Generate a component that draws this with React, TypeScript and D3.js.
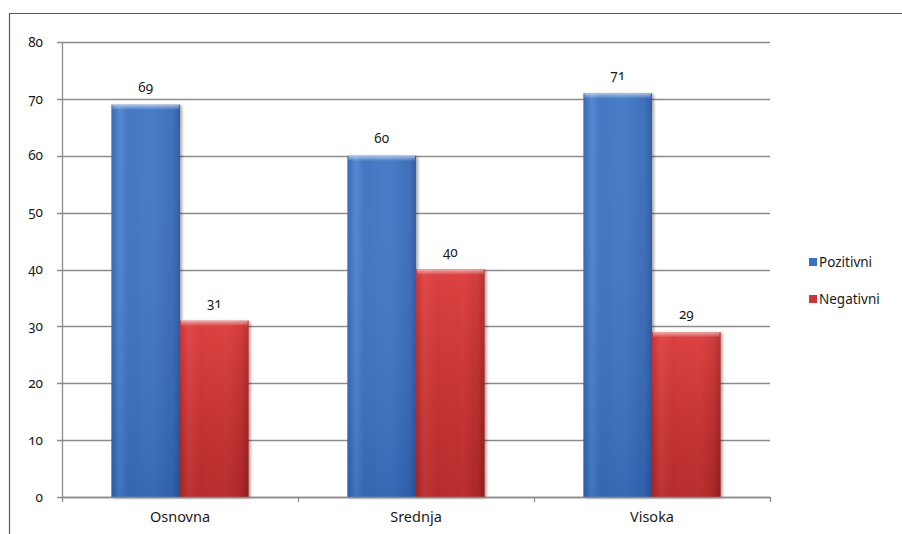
import React from "react";
import * as d3 from "d3";

const categories = ["Osnovna", "Srednja", "Visoka"];
const seriesNames = ["Pozitivni", "Negativni"];
const pozitivni = [69, 60, 71];
const negativni = [31, 40, 29];
const yTicks = [0, 10, 20, 30, 40, 50, 60, 70, 80];

const W = 902;
const H = 534;
const margin = { left: 62, right: 132, top: 42, bottom: 37 };
const FONT = "'Noto Sans', 'Open Sans', sans-serif";

export default function App() {
  const x0 = d3
    .scaleBand<string>()
    .domain(categories)
    .range([margin.left, W - margin.right])
    .paddingInner(0)
    .paddingOuter(0);
  const x1 = d3
    .scaleBand<string>()
    .domain(seriesNames)
    .range([0, x0.bandwidth()])
    .paddingInner(0)
    .paddingOuter(0.72);
  const y = d3.scaleLinear().domain([0, 80]).range([H - margin.bottom, margin.top]);

  const values = [pozitivni, negativni];
  const fills = ["url(#blueH)", "url(#redH)"];
  const shades = ["url(#blueV)", "url(#redV)"];
  const legendColors = ["#3b72c2", "#cf3536"];

  const x0Edges = [...categories.map((c) => x0(c)!), x0.range()[1]];

  return (
    <svg
      width={W}
      height={H}
      style={{ position: "absolute", left: 0, top: 0, fontFamily: FONT, fontVariantNumeric: "oldstyle-nums" }}
    >
      <defs>
        <linearGradient id="blueH" x1="0" x2="1" y1="0" y2="0">
          <stop offset="0" stopColor="#2f62b0" />
          <stop offset="0.12" stopColor="#4a82cf" />
          <stop offset="0.25" stopColor="#3a70c0" />
          <stop offset="0.6" stopColor="#3e76c6" />
          <stop offset="0.9" stopColor="#3568b6" />
          <stop offset="1" stopColor="#2a569e" />
        </linearGradient>
        <linearGradient id="redH" x1="0" x2="1" y1="0" y2="0">
          <stop offset="0" stopColor="#b52a2b" />
          <stop offset="0.12" stopColor="#d94242" />
          <stop offset="0.3" stopColor="#cf3637" />
          <stop offset="0.7" stopColor="#d23a3a" />
          <stop offset="0.9" stopColor="#c03030" />
          <stop offset="1" stopColor="#9e2526" />
        </linearGradient>
        <linearGradient id="blueV" x1="0" x2="0" y1="0" y2="1">
          <stop offset="0" stopColor="#ffffff" stopOpacity="0.05" />
          <stop offset="1" stopColor="#0a2a60" stopOpacity="0.15" />
        </linearGradient>
        <linearGradient id="redV" x1="0" x2="0" y1="0" y2="1">
          <stop offset="0" stopColor="#ff6060" stopOpacity="0.25" />
          <stop offset="1" stopColor="#500000" stopOpacity="0.2" />
        </linearGradient>
        <linearGradient id="gloss" x1="0" x2="0" y1="0" y2="1">
          <stop offset="0" stopColor="#ffffff" stopOpacity="0.55" />
          <stop offset="1" stopColor="#ffffff" stopOpacity="0.05" />
        </linearGradient>
        <filter id="shadow" x="-10%" y="-10%" width="130%" height="120%">
          <feGaussianBlur in="SourceAlpha" stdDeviation="1.5" />
          <feOffset dx="2" dy="1" result="b" />
          <feComponentTransfer>
            <feFuncA type="linear" slope="0.35" />
          </feComponentTransfer>
          <feMerge>
            <feMergeNode />
            <feMergeNode in="SourceGraphic" />
          </feMerge>
        </filter>
      </defs>

      <rect x={0} y={0} width={W} height={H} fill="#ffffff" />
      {/* outer frame */}
      <path d={`M9.5,${H} V13.5 H${W}`} fill="none" stroke="#5a5a5a" strokeWidth={1.2} />

      {/* horizontal gridlines and y ticks */}
      {yTicks.map((t) => (
        <g key={t}>
          <line
            x1={margin.left - 5}
            x2={W - margin.right}
            y1={Math.round(y(t)) + 0.5}
            y2={Math.round(y(t)) + 0.5}
            stroke="#8c8c8c"
            strokeWidth={1.3}
          />
          <text
            x={margin.left - 19}
            y={y(t)}
            dy="0.35em"
            textAnchor="end"
            fontSize={13.5}
            fill="#1a1a1a"
          >
            {t}
          </text>
        </g>
      ))}

      {/* y axis line */}
      <line
        x1={margin.left + 0.5}
        x2={margin.left + 0.5}
        y1={y(80)}
        y2={y(0)}
        stroke="#8c8c8c"
        strokeWidth={1.3}
      />

      {/* x axis tick marks */}
      {x0Edges.map((e, i) => (
        <line
          key={i}
          x1={Math.round(e) + 0.5}
          x2={Math.round(e) + 0.5}
          y1={y(0)}
          y2={y(0) + 5}
          stroke="#8c8c8c"
          strokeWidth={1.3}
        />
      ))}

      {/* bars */}
      {categories.map((c, ci) => (
        <g key={c}>
          {seriesNames.map((s, si) => {
            const v = values[si][ci];
            const bx = x0(c)! + x1(s)!;
            const bw = x1.bandwidth();
            const by = y(v);
            const bh = y(0) - by;
            return (
              <g key={s}>
                <rect x={bx} y={by} width={bw} height={bh} fill={fills[si]} filter="url(#shadow)" />
                <rect x={bx} y={by} width={bw} height={bh} fill={shades[si]} />
                <rect x={bx + 1} y={by} width={bw - 2} height={5} fill="url(#gloss)" />
                <text
                  x={bx + bw / 2}
                  y={by - 13}
                  textAnchor="middle"
                  fontSize={13.5}
                  fill="#1a1a1a"
                >
                  {v}
                </text>
              </g>
            );
          })}
        </g>
      ))}

      {/* x axis baseline */}
      <line
        x1={margin.left}
        x2={W - margin.right}
        y1={Math.round(y(0)) + 0.5}
        y2={Math.round(y(0)) + 0.5}
        stroke="#8c8c8c"
        strokeWidth={1.3}
      />

      {/* category labels */}
      {categories.map((c) => (
        <text
          key={c}
          x={x0(c)! + x0.bandwidth() / 2}
          y={y(0) + 25}
          textAnchor="middle"
          fontSize={14.5}
          fill="#1a1a1a"
        >
          {c}
        </text>
      ))}

      {/* legend */}
      {seriesNames.map((s, i) => (
        <g key={s} transform={`translate(809, ${262 + i * 37})`}>
          <rect x={0} y={-4} width={8} height={8} fill={legendColors[i]} />
          <text x={10} y={0} dy="0.35em" fontSize={13.5} fill="#1a1a1a">
            {s}
          </text>
        </g>
      ))}
    </svg>
  );
}
